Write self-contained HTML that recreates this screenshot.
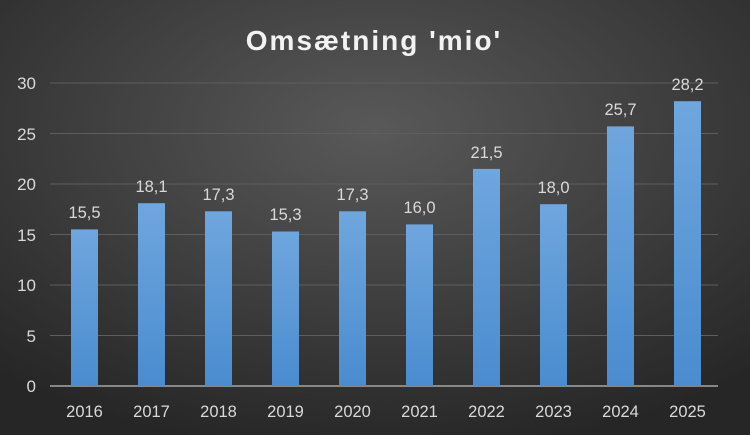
<!DOCTYPE html>
<html><head><style>
body{margin:0;background:#000}
svg{display:block}
text{font-family:"Liberation Sans",sans-serif}
</style></head><body>
<svg width="750" height="435" viewBox="0 0 750 435">
<defs>
<radialGradient id="bg" cx="50%" cy="30%" r="75%">
<stop offset="0" stop-color="#595959"/><stop offset="1" stop-color="#262626"/>
</radialGradient>
<linearGradient id="bar" x1="0" y1="0" x2="0" y2="1">
<stop offset="0" stop-color="#6fa6de"/><stop offset="1" stop-color="#4a8ccf"/>
</linearGradient>
</defs>
<rect width="750" height="435" fill="url(#bg)"/>
<text x="374" y="50" text-anchor="middle" font-size="28" font-weight="bold" fill="#f2f2f2" letter-spacing="2">Omsætning 'mio'</text>
<g stroke="#5e5e5e" stroke-width="1">
<line x1="50" x2="718" y1="83" y2="83"/><line x1="50" x2="718" y1="133.5" y2="133.5"/>
<line x1="50" x2="718" y1="184" y2="184"/><line x1="50" x2="718" y1="234.5" y2="234.5"/>
<line x1="50" x2="718" y1="285" y2="285"/><line x1="50" x2="718" y1="335.5" y2="335.5"/>
</g>
<g font-size="17" fill="#d9d9d9" text-anchor="end">
<text x="36" y="89">30</text><text x="36" y="140">25</text><text x="36" y="190">20</text>
<text x="36" y="241">15</text><text x="36" y="291">10</text><text x="36" y="342">5</text><text x="36" y="392">0</text>
</g>
<line x1="50" x2="718" y1="386" y2="386" stroke="#a6a6a6" stroke-width="1.5"/>
<g font-size="16.5" fill="#d9d9d9" text-anchor="middle">
<rect x="71" y="229.4" width="27" height="156.6" fill="url(#bar)"/><text x="84.5" y="218">15,5</text><text x="84.5" y="417">2016</text>
<rect x="138" y="203.2" width="27" height="182.8" fill="url(#bar)"/><text x="151.5" y="192">18,1</text><text x="151.5" y="417">2017</text>
<rect x="205" y="211.3" width="27" height="174.7" fill="url(#bar)"/><text x="218.5" y="200">17,3</text><text x="218.5" y="417">2018</text>
<rect x="272" y="231.5" width="27" height="154.5" fill="url(#bar)"/><text x="285.5" y="220">15,3</text><text x="285.5" y="417">2019</text>
<rect x="339" y="211.3" width="27" height="174.7" fill="url(#bar)"/><text x="352.5" y="200">17,3</text><text x="352.5" y="417">2020</text>
<rect x="406" y="224.4" width="27" height="161.6" fill="url(#bar)"/><text x="419.5" y="213">16,0</text><text x="419.5" y="417">2021</text>
<rect x="473" y="168.9" width="27" height="217.1" fill="url(#bar)"/><text x="486.5" y="158">21,5</text><text x="486.5" y="417">2022</text>
<rect x="540" y="204.2" width="27" height="181.8" fill="url(#bar)"/><text x="553.5" y="193">18,0</text><text x="553.5" y="417">2023</text>
<rect x="607" y="126.4" width="27" height="259.6" fill="url(#bar)"/><text x="620.5" y="115">25,7</text><text x="620.5" y="417">2024</text>
<rect x="674" y="101.2" width="27" height="284.8" fill="url(#bar)"/><text x="687.5" y="90">28,2</text><text x="687.5" y="417">2025</text>
</g>
</svg>
</body></html>
